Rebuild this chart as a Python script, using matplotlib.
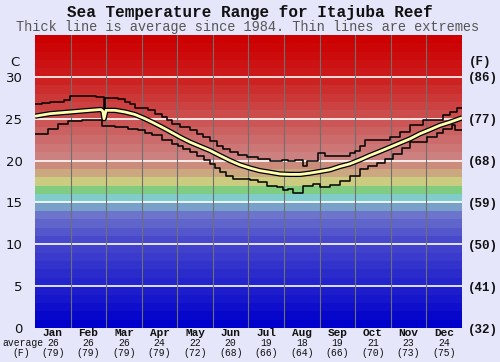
"""
Sea temperature range chart for Itajuba Reef
"""

import numpy as np
import matplotlib
matplotlib.use('Agg')
from matplotlib import pyplot as plt
from matplotlib.transforms import blended_transform_factory

MONO = ['Liberation Mono', 'DejaVu Sans Mono']

# data, day of year vs degrees C
avg_day = [0, 12.8, 30, 47, 56.4, 58, 59, 60.7, 68.4, 77, 85.5, 94, 100, 107, 113.7, 124,
           132.5, 141, 149.6, 158, 166.7, 175, 184, 192, 201, 209.5, 218, 226.6, 235, 243.7,
           252, 260.8, 269, 278, 286, 295, 303.5, 312, 320.6, 329, 337.7, 346, 355, 365]
avg_temp = [25.3, 25.6, 25.8, 26.0, 26.1, 25.9, 25.0, 26.0, 26.0, 25.8, 25.5, 25.0, 24.6, 24.1,
            23.6, 22.8, 22.2, 21.7, 21.2, 20.6, 20.0, 19.5, 19.1, 18.8, 18.6, 18.4, 18.35, 18.35,
            18.5, 18.7, 18.9, 19.3, 19.6, 20.1, 20.6, 21.1, 21.6, 22.1, 22.6, 23.2, 23.7, 24.2,
            24.6, 25.1]

max_day = [0, 6, 12.8, 19.7, 24.8, 30, 52, 58, 59, 60, 71, 77, 81, 85.5, 96.6, 102.6, 108.6,
           113, 117, 124, 132.5, 138.5, 143.6, 149.6, 155.6, 160.7, 166.7, 173.5, 181, 190.6,
           201, 211, 216, 222, 229, 232.5, 242, 248, 260.8, 269, 273.6, 278, 282, 292, 303.5,
           312, 320.6, 331.7, 343.7, 348.8, 355, 361, 365]
max_temp = [26.8, 26.9, 27.0, 27.0, 27.2, 27.7, 27.6, 27.6, 25.0, 27.5, 27.3, 27.0, 26.7, 26.3,
            26.0, 25.6, 25.2, 24.8, 24.4, 24.0, 23.6, 23.2, 22.8, 22.3, 21.8, 21.4, 21.0, 20.7,
            20.4, 20.2, 20.0, 20.1, 19.9, 20.1, 19.4, 20.0, 20.9, 20.5, 20.6, 20.9, 21.2, 21.8,
            22.4, 22.4, 22.8, 23.4, 24.2, 24.8, 24.9, 25.4, 25.8, 26.3, 26.3]

min_day = [0, 11, 19.7, 28, 40, 52, 57, 68.4, 79.5, 88, 94, 100, 108.6, 117, 122, 126.5, 132.5,
           138.5, 144.5, 149.6, 154, 158, 163, 169, 184, 190.6, 198, 207, 212, 216, 220.6, 226.6,
           229, 237.7, 243.7, 252, 260.8, 269, 278, 285, 292, 299, 306, 313.8, 320.6, 335, 343.7,
           348.8, 356.5, 359, 365]
min_temp = [23.2, 23.8, 24.4, 24.7, 24.9, 24.9, 24.1, 24.0, 23.8, 23.6, 23.3, 23.0, 22.4, 22.0,
            21.8, 21.4, 21.0, 20.6, 20.1, 19.6, 19.1, 18.6, 18.2, 17.8, 17.7, 17.4, 17.0, 16.8,
            16.5, 16.6, 16.1, 16.1, 17.0, 17.2, 16.9, 17.1, 17.6, 18.2, 19.0, 19.4, 19.7, 20.2,
            20.8, 21.5, 22.2, 22.8, 23.3, 23.8, 24.2, 23.7, 23.7]

months = ['Jan', 'Feb', 'Mar', 'Apr', 'May', 'Jun', 'Jul', 'Aug', 'Sep', 'Oct', 'Nov', 'Dec']
month_avg_c = ['26', '26', '26', '24', '22', '20', '19', '18', '19', '21', '23', '24']
month_avg_f = ['(79)', '(79)', '(79)', '(79)', '(72)', '(68)', '(66)', '(64)', '(66)', '(70)',
               '(73)', '(75)']
c_ticks = [0, 5, 10, 15, 20, 25, 30]
f_labels = ['(32)', '(41)', '(50)', '(59)', '(68)', '(77)', '(86)']

# background colour bands, one per degree
anchors = {0: (0, 0, 204), 10: (72, 72, 204), 13: (108, 116, 204), 14: (120, 160, 200),
           15: (128, 204, 204), 16: (128, 204, 128), 17: (204, 204, 128), 18: (204, 168, 128),
           19: (204, 140, 124), 20: (204, 128, 128), 30: (204, 24, 24), 34: (204, 0, 0)}
ak = sorted(anchors)
band_cols = []
for t in range(35):
    rgb = [np.interp(t, ak, [anchors[k][i] for k in ak]) / 255 for i in range(3)]
    band_cols.append(rgb)

BG = '#e6e6fa'
fig = plt.figure(figsize=(5, 3.62), dpi=100, facecolor=BG)
ax = fig.add_axes([0.07, 0.0939, 0.854, 0.8094])

for t, c in enumerate(band_cols):
    ax.axhspan(t, t + 1, color=c, lw=0, zorder=0)

for t in c_ticks[1:]:
    ax.axhline(t, color='white', lw=1.2, zorder=1)
for m in range(1, 12):
    ax.axvline(m * 365 / 12, color='#707070', lw=0.8, zorder=1)

ax.plot(max_day, max_temp, drawstyle='steps-post', color='black', lw=1.1, zorder=3)
ax.plot(min_day, min_temp, drawstyle='steps-post', color='black', lw=1.1, zorder=3)
ax.plot(avg_day, avg_temp, color='black', lw=3.8, zorder=4, solid_capstyle='butt')
ax.plot(avg_day, avg_temp, color='#ffffb0', lw=2.0, zorder=5, solid_capstyle='butt')

ax.set_xlim(0, 365)
ax.set_ylim(0, 35)
for s in ax.spines.values():
    s.set_visible(False)
ax.set_xticks([])
ax.set_yticks(c_ticks)
ax.tick_params(axis='y', length=0, pad=9, labelsize=9.5, labelcolor='#111111')

ax2 = ax.twinx()
ax2.set_ylim(0, 35)
ax2.set_yticks(c_ticks)
ax2.set_yticklabels(f_labels, family=MONO, weight='bold', fontsize=9)
ax2.tick_params(axis='y', length=0, pad=4, labelcolor='#111111')
for s in ax2.spines.values():
    s.set_visible(False)

fig.text(15 / 500, 1 - 62 / 362, 'C', ha='center', va='center', fontsize=9.5, color='#111111')
fig.text(480 / 500, 1 - 62 / 362, '(F)', ha='center', va='center', family=MONO,
         weight='bold', fontsize=9, color='#111111')

tr = blended_transform_factory(ax.transData, fig.transFigure)
for i, m in enumerate(months):
    xc = (i + 0.5) * 365 / 12
    ax.text(xc, 1 - 333 / 362, m, transform=tr, ha='center', va='center', family=MONO,
            weight='bold', fontsize=8, color='#111111')
    ax.text(xc, 1 - 343 / 362, month_avg_c[i], transform=tr, ha='center', va='center',
            family=MONO, fontsize=7, color='#111111')
    ax.text(xc, 1 - 352.5 / 362, month_avg_f[i], transform=tr, ha='center', va='center',
            family=MONO, fontsize=7, color='#111111')
fig.text(23 / 500, 1 - 343 / 362, 'average', ha='center', va='center', family=MONO,
         fontsize=7, color='#111111')
fig.text(21 / 500, 1 - 352.5 / 362, '(F)', ha='center', va='center', family=MONO,
         fontsize=7, color='#111111')

fig.text(0.5, 1 - 13 / 362, 'Sea Temperature Range for Itajuba Reef', ha='center', va='center',
         family=MONO, weight='bold', fontsize=11.5, color='#111111')
fig.text(0.496, 1 - 27.5 / 362, 'Thick line is average since 1984. Thin lines are extremes',
         ha='center', va='center', family=MONO, fontsize=9.8, color='#555555')

fig.savefig('out.png', dpi=100, facecolor=BG)
